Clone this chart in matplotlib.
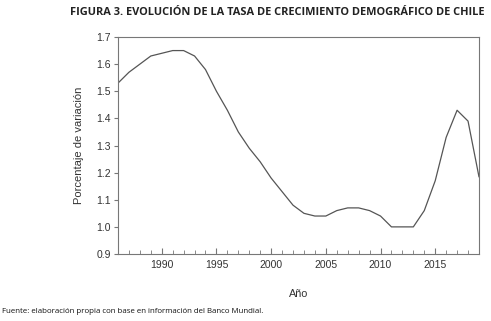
import matplotlib
matplotlib.use("Agg")
import matplotlib.pyplot as plt
from matplotlib.ticker import MultipleLocator

# Tasa de crecimiento demográfico de Chile (%), 1986-2019
years = list(range(1986, 2020))
growth = [1.53, 1.57, 1.60, 1.63, 1.64, 1.65, 1.65, 1.63, 1.58, 1.50,
          1.43, 1.35, 1.29, 1.24, 1.18, 1.13, 1.08, 1.05, 1.04, 1.04,
          1.06, 1.07, 1.07, 1.06, 1.04, 1.00, 1.00, 1.00, 1.06, 1.17,
          1.33, 1.43, 1.39, 1.185]

title = "FIGURA 3. EVOLUCIÓN DE LA TASA DE CRECIMIENTO DEMOGRÁFICO DE CHILE"
source = "Fuente: elaboración propia con base en información del Banco Mundial."

fig = plt.figure(figsize=(4.91, 3.21), dpi=100)
ax = fig.add_axes([0.2403, 0.2087, 0.7352, 0.676])

ax.plot(years, growth, color="#555555", linewidth=0.9)

ax.set_xlim(1986, 2019)
ax.set_ylim(0.9, 1.7)
ax.xaxis.set_major_locator(MultipleLocator(5))
ax.xaxis.set_minor_locator(MultipleLocator(1))
ax.yaxis.set_major_locator(MultipleLocator(0.1))
ax.yaxis.set_major_formatter(matplotlib.ticker.FormatStrFormatter('%.1f'))

for s in ax.spines.values():
    s.set_color("#777777")
    s.set_linewidth(0.8)

ax.tick_params(axis='x', which='both', direction='in', color="#777777",
               labelsize=7.5, labelcolor="#333333", pad=4)
ax.tick_params(axis='x', which='major', length=4)
ax.tick_params(axis='x', which='minor', length=3)
ax.tick_params(axis='y', direction='out', length=3, color="#777777",
               labelsize=7.5, labelcolor="#333333", pad=2)
for lab in ax.get_xticklabels() + ax.get_yticklabels():
    lab.set_family("Liberation Sans")

ax.set_ylabel("Porcentaje de variación", fontsize=8, family="Liberation Sans",
              color="#333333", labelpad=9)
ax.set_xlabel("Año", fontsize=7.8, family="Liberation Sans",
              color="#333333", labelpad=14)

fig.text(0.986, 0.962, title, ha="right", va="center", fontsize=7.9,
         fontweight="bold", family="Open Sans", color="#222222")
fig.text(0.004, 0.031, source, ha="left", va="center", fontsize=5.7,
         family="Open Sans", color="#111111")

fig.savefig("out.png", dpi=100)
